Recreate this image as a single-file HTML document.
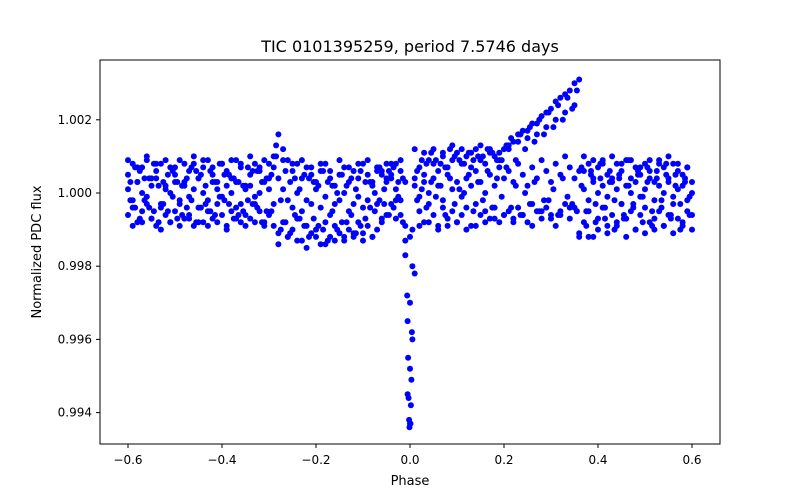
<!DOCTYPE html>
<html><head><meta charset="utf-8"><style>
body{margin:0;background:#fff}
svg{display:block;font-family:"DejaVu Sans","Liberation Sans",sans-serif}
</style></head><body>
<svg id="chart" width="800" height="500">
<rect x="0" y="0" width="800" height="500" fill="#fff"/>
<text x="410" y="52" text-anchor="middle" font-size="16">TIC 0101395259, period 7.5746 days</text>
<g id="marks"></g>
<g id="axes"></g>
<rect x="100" y="60" width="620" height="384" fill="none" stroke="#000" stroke-width="1"/>
<text x="410" y="485" text-anchor="middle" font-size="13">Phase</text>
<text transform="translate(41,252) rotate(-90)" text-anchor="middle" font-size="13">Normalized PDC flux</text>
</svg>
<script>
// deviations in units of 1e-4 relative flux
const phaseStart = -0.60, phaseStep = 0.01;       // grid for series A-D
const phaseStartHalf = -0.595;                     // grid for series E-F
const seriesA = [5,8,3,7,9,4,6,8,2,7,5,9,3,6,8,4,7,9,5,3,8,6,4,9,7,2,5,8,6,9,4,
7,16,12,9,6,8,4,7,5,3,6,8,4,2,5,7,3,6,4,8,5,3,7,6,4,
5,8,6,3,
-63,
4,7,5,9,8,6,10,7,9,11,8,10,7,12,9,8,11,10,9,12,
13,14,16,17,17,19,19,21,22,23,25,26,27,28,30,31,
6,8,4,7,9,5,3,8,6,9,4,7,5,8,6,3,9,7,4,8,6,5,7,3];
const seriesB = [-6,-4,-8,-5,-3,-7,-9,-4,-6,-8,-5,-3,-7,-6,-9,-4,-8,-5,-7,-3,-6,-9,-5,-4,-8,-6,-7,-3,-5,-8,-6,
-9,-11,-8,-12,-10,-7,-13,-9,-11,-10,-14,-8,-12,-9,-11,-13,-10,-12,-8,-11,-9,-12,-10,-7,-6,
-3,-2,-6,-17,
-48,
-22,-5,-8,-3,-6,-9,-4,-7,-5,-8,-6,-4,-9,-3,-6,-5,-7,-4,-8,-6,
-5,-7,-4,-6,-8,-3,-5,-7,-4,-6,-9,-5,-3,-7,-4,-12,
-8,-5,-12,-7,-4,-9,-6,-8,-3,-7,-5,-10,-6,-4,-8,-7,-5,-9,-6,-3,-7,-8,-5,-6];
const seriesC = [1,-2,3,0,-1,2,4,-3,1,0,3,-2,2,-1,1,4,0,-2,3,1,-1,2,0,3,-3,1,2,-1,0,3,1,
-3,4,1,-2,-4,0,-5,-2,-3,1,-4,-1,-6,-3,-2,0,-5,-3,-1,-4,-2,2,-3,5,3,
4,1,-2,-9,
-30,
2,-1,3,0,4,2,-2,5,1,3,-1,4,2,6,3,0,5,2,7,4,
6,3,8,5,2,7,4,9,6,3,8,5,10,7,4,6,
1,-2,3,0,2,-1,4,1,-3,2,0,3,-1,1,4,-2,2,0,3,-1,1,2,-2,0];
const seriesD = [9,-9,7,-8,10,-7,8,-10,9,-8,7,-9,8,-7,10,-8,9,-9,7,-8,8,-10,9,-7,8,-9,10,-8,7,-9,8,
10,-14,9,-12,8,-13,9,-15,7,-12,8,-14,6,-13,9,-12,7,-11,8,-13,9,-12,6,-8,8,
8,-7,9,-13,
-12,
12,-9,11,-8,12,-10,11,-9,13,-8,12,-10,11,-9,13,-8,12,-7,11,-6,
12,-8,14,-6,15,-9,16,-5,18,-7,20,-6,22,-4,24,-11,
10,-12,9,-10,8,-11,10,-9,8,-12,9,-10,7,-11,9,-10,8,-9,10,-11,8,-9,7,-10];
const seriesE = [3,-4,6,-2,4,-5,2,-3,5,-1,3,-6,4,-2,6,-4,2,-5,3,-1,5,-3,4,-6,2,-2,6,-4,3,-5,
5,10,-2,-8,3,-6,1,-9,4,-7,2,-10,3,-5,0,-8,2,-6,1,-9,3,-4,0,-2,1,
6,-4,3,-8,
-35,-10,
6,1,8,3,9,2,7,4,10,1,8,5,9,3,10,6,11,4,9,7,
15,2,16,0,18,3,20,-2,22,1,24,4,26,-3,28,
2,-5,6,-3,4,-7,3,-2,5,-6,2,-4,6,-1,3,-5,4,-2,5,-6,2,-3,4,-1];
const seriesF = [-2,7,-7,4,-4,8,-8,3,-5,6,-7,2,-4,7,-8,5,-3,6,-6,8,-2,5,-7,3,-5,7,-3,6,-8,4,
-5,13,-10,6,-11,4,-7,5,-12,3,-9,6,-13,2,-10,5,-8,4,-11,6,-7,3,-5,7,-3,
-6,7,-1,4,
-55,-40,
-2,9,-4,11,-1,8,-6,12,-3,9,0,11,-5,10,-2,12,-4,9,-1,13,
-4,9,-6,12,-3,14,-5,16,-2,18,-6,20,-1,23,-5,
7,-9,5,-8,8,-4,6,-10,4,-7,9,-3,5,-8,7,-9,6,-4,8,-7,5,-10,3,-6];
const transitPhase = [-0.006,-0.004,-0.003,-0.002,-0.001,0.001,0.002,0.003,0.004,0.005];
const transitDev = [-28,-45,-56,-62,-64,-63,-58,-51,-38,-20];
const xTicks = [-0.6,-0.4,-0.2,0.0,0.2,0.4,0.6];
const xTickLabels = ["\u22120.6","\u22120.4","\u22120.2","0.0","0.2","0.4","0.6"];
const yTicks = [0.994,0.996,0.998,1.000,1.002];
const yTickLabels = ["0.994","0.996","0.998","1.000","1.002"];

const xs = p => 410 + p*470;
const ys = f => 193 - (f-1.0)*36600;
const NS="http://www.w3.org/2000/svg";
const marks=document.getElementById('marks');
function dot(p,dev){
  const c=document.createElementNS(NS,'circle');
  c.setAttribute('cx',xs(p).toFixed(1));
  c.setAttribute('cy',ys(1+dev*1e-4).toFixed(1));
  c.setAttribute('r','3');
  c.setAttribute('fill','#0000ff');
  
  
  marks.appendChild(c);
}
[seriesA,seriesB,seriesC,seriesD].forEach(s=>s.forEach((d,i)=>dot(phaseStart+i*phaseStep,d)));
[seriesE,seriesF].forEach(s=>s.forEach((d,i)=>dot(phaseStartHalf+i*phaseStep,d)));
transitPhase.forEach((p,i)=>dot(p,transitDev[i]));

const axes=document.getElementById('axes');
xTicks.forEach((t,i)=>{
  const x=xs(t);
  const l=document.createElementNS(NS,'line');
  l.setAttribute('x1',x);l.setAttribute('x2',x);l.setAttribute('y1',444);l.setAttribute('y2',448);l.setAttribute('stroke','#000');
  
  
  axes.appendChild(l);
  const tx=document.createElementNS(NS,'text');
  tx.setAttribute('x',x);tx.setAttribute('y',464);tx.setAttribute('text-anchor','middle');tx.setAttribute('font-size','12');
  tx.textContent=xTickLabels[i];
  
  
  axes.appendChild(tx);
});
yTicks.forEach((t,i)=>{
  const y=ys(t);
  const l=document.createElementNS(NS,'line');
  l.setAttribute('x1',96);l.setAttribute('x2',100);l.setAttribute('y1',y);l.setAttribute('y2',y);l.setAttribute('stroke','#000');
  
  
  axes.appendChild(l);
  const tx=document.createElementNS(NS,'text');
  tx.setAttribute('x',92);tx.setAttribute('y',y+4);tx.setAttribute('text-anchor','end');tx.setAttribute('font-size','12');
  tx.textContent=yTickLabels[i];
  
  
  axes.appendChild(tx);
});
</script>
</body></html>
